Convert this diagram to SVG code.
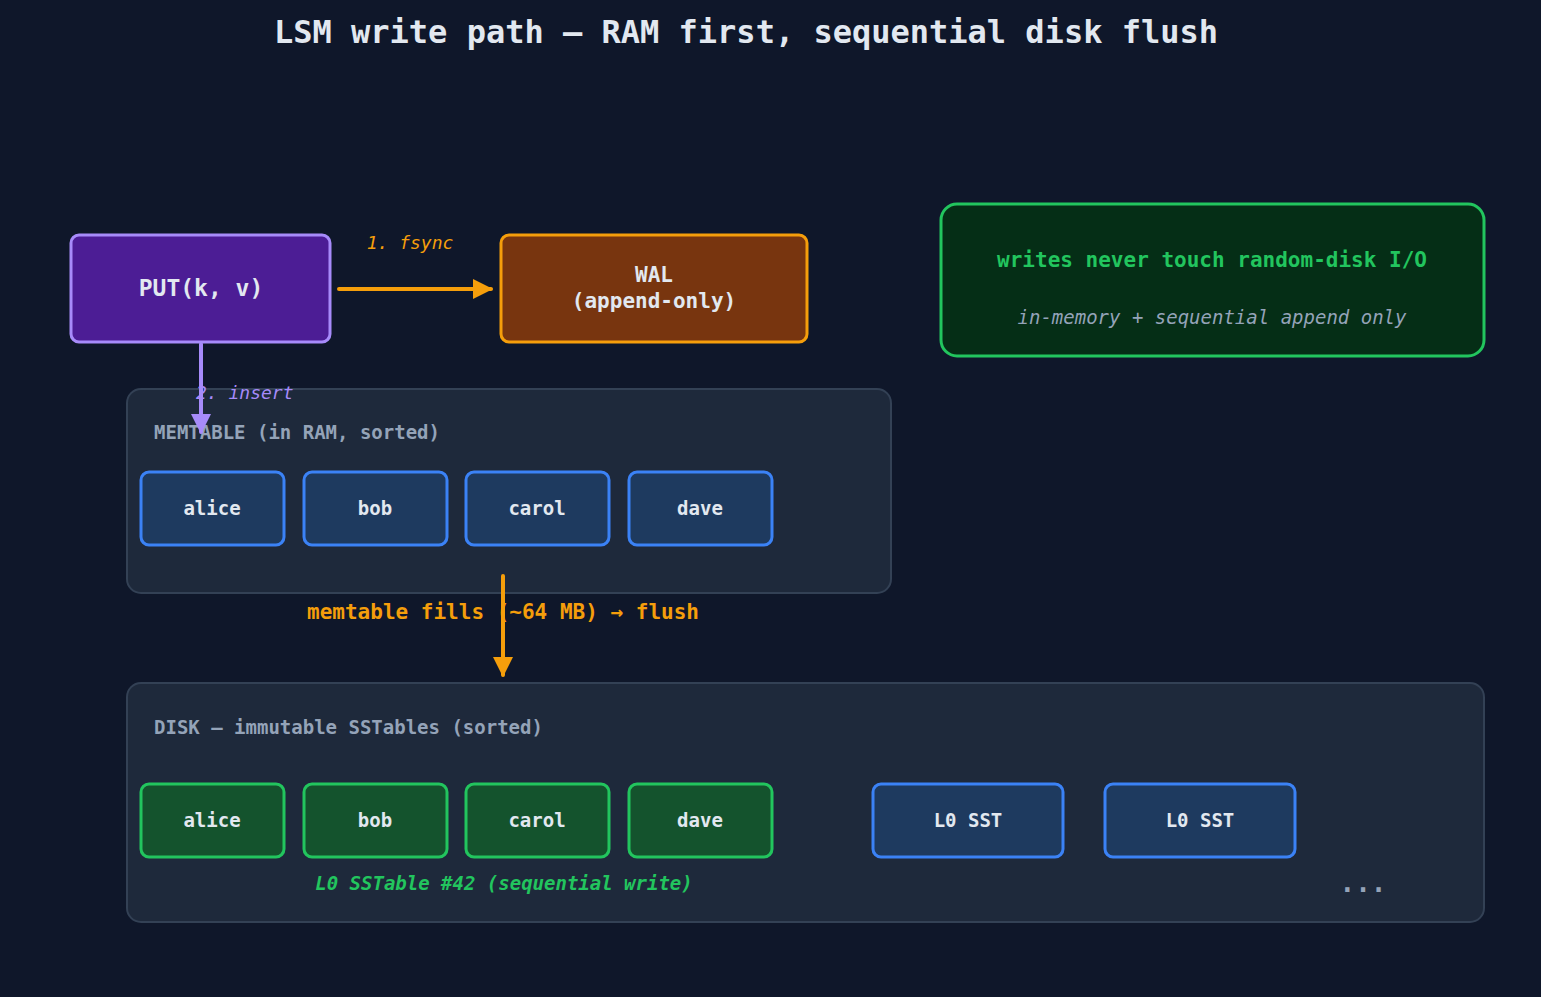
<svg xmlns="http://www.w3.org/2000/svg" width="1541" height="997" viewBox="0 0 1541 997">
<defs>
<style>
text{font-family:"DejaVu Sans Mono",monospace;}
.b{font-weight:bold;}
.i{font-style:italic;}
.key{fill:#1e3a5f;stroke:#3b82f6;stroke-width:3;}
.gk{fill:#14532d;stroke:#22c55e;stroke-width:3;}
.kt{fill:#e2e8f0;font-size:19px;font-weight:bold;text-anchor:middle;}
.panel{fill:#1e293b;stroke:#334155;stroke-width:2;}
.pl{fill:#94a3b8;font-size:19px;font-weight:bold;}
</style>
<marker id="ao" viewBox="0 0 10 10" refX="9" refY="5" markerWidth="5" markerHeight="5" orient="auto" markerUnits="userSpaceOnUse" ><path d="M0,0L10,5L0,10z" fill="#f59e0b"/></marker>
<marker id="aor" viewBox="0 0 10 10" refX="9" refY="5" markerWidth="20" markerHeight="20" orient="auto" markerUnits="userSpaceOnUse"><path d="M0,0L10,5L0,10z" fill="#f59e0b"/></marker>
<marker id="ap" viewBox="0 0 10 10" refX="9" refY="5" markerWidth="20" markerHeight="20" orient="auto" markerUnits="userSpaceOnUse"><path d="M0,0L10,5L0,10z" fill="#a78bfa"/></marker>
</defs>
<rect width="1541" height="997" fill="#0f172a"/>
<text x="746" y="43" text-anchor="middle" font-size="32" font-weight="bold" fill="#e2e8f0">LSM write path — RAM first, sequential disk flush</text>

<g id="memtable"><rect class="panel" x="127" y="389" width="764" height="204" rx="14"/><text class="pl" x="154" y="439">MEMTABLE (in RAM, sorted)</text></g>
<g id="disk"><rect class="panel" x="127" y="683" width="1357" height="239" rx="14"/><text class="pl" x="154" y="734">DISK — immutable SSTables (sorted)</text></g>

<g id="put"><rect x="71" y="235" width="259" height="107" rx="8" fill="#4c1d95" stroke="#a78bfa" stroke-width="3"/><text x="201" y="296" text-anchor="middle" font-size="23" font-weight="bold" fill="#e2e8f0">PUT(k, v)</text></g>
<g id="wal"><rect x="501" y="235" width="306" height="107" rx="8" fill="#78350f" stroke="#f59e0b" stroke-width="3"/><text x="654" y="282" text-anchor="middle" font-size="21" font-weight="bold" fill="#e2e8f0">WAL</text><text x="654" y="308" text-anchor="middle" font-size="21" font-weight="bold" fill="#e2e8f0">(append-only)</text></g>
<g id="note"><rect x="941" y="204" width="543" height="152" rx="16" fill="#052e16" stroke="#22c55e" stroke-width="3"/><text x="1212" y="267" text-anchor="middle" font-size="21" font-weight="bold" fill="#22c55e">writes never touch random-disk I/O</text><text x="1212" y="324" text-anchor="middle" font-size="19" font-style="italic" fill="#94a3b8">in-memory + sequential append only</text></g>

<g id="m-alice"><rect class="key" x="141" y="472" width="143" height="73" rx="8"/><text class="kt" x="212" y="515">alice</text></g>
<g id="m-bob"><rect class="key" x="304" y="472" width="143" height="73" rx="8"/><text class="kt" x="375" y="515">bob</text></g>
<g id="m-carol"><rect class="key" x="466" y="472" width="143" height="73" rx="8"/><text class="kt" x="537" y="515">carol</text></g>
<g id="m-dave"><rect class="key" x="629" y="472" width="143" height="73" rx="8"/><text class="kt" x="700" y="515">dave</text></g>

<g id="d-alice"><rect class="gk" x="141" y="784" width="143" height="73" rx="8"/><text class="kt" x="212" y="827">alice</text></g>
<g id="d-bob"><rect class="gk" x="304" y="784" width="143" height="73" rx="8"/><text class="kt" x="375" y="827">bob</text></g>
<g id="d-carol"><rect class="gk" x="466" y="784" width="143" height="73" rx="8"/><text class="kt" x="537" y="827">carol</text></g>
<g id="d-dave"><rect class="gk" x="629" y="784" width="143" height="73" rx="8"/><text class="kt" x="700" y="827">dave</text></g>
<g id="l0a"><rect class="key" x="873" y="784" width="190" height="73" rx="8"/><text class="kt" x="968" y="827" font-weight="normal">L0 SST</text></g>
<g id="l0b"><rect class="key" x="1105" y="784" width="190" height="73" rx="8"/><text class="kt" x="1200" y="827" font-weight="normal">L0 SST</text></g>
<text x="504" y="890" text-anchor="middle" font-size="19" font-weight="bold" font-style="italic" fill="#22c55e">L0 SSTable #42  (sequential write)</text>
<text x="1363" y="892" text-anchor="middle" font-size="26" font-weight="bold" fill="#94a3b8">...</text>

<g id="connectors" fill="none" stroke-width="4" stroke-linecap="round">
<line x1="339" y1="289" x2="491" y2="289" stroke="#f59e0b" marker-end="url(#aor)"/>
<line x1="201" y1="344" x2="201" y2="432" stroke="#a78bfa" marker-end="url(#ap)"/>
<line x1="503" y1="576" x2="503" y2="675" stroke="#f59e0b" marker-end="url(#aor)"/>
</g>
<text x="410" y="249" text-anchor="middle" font-size="18" font-style="italic" fill="#f59e0b">1. fsync</text>
<text x="196" y="399" font-size="18" font-style="italic" fill="#a78bfa">2. insert</text>
<text x="503" y="619" text-anchor="middle" font-size="21" font-weight="bold" fill="#f59e0b">memtable fills (~64 MB) → flush</text>
</svg>
